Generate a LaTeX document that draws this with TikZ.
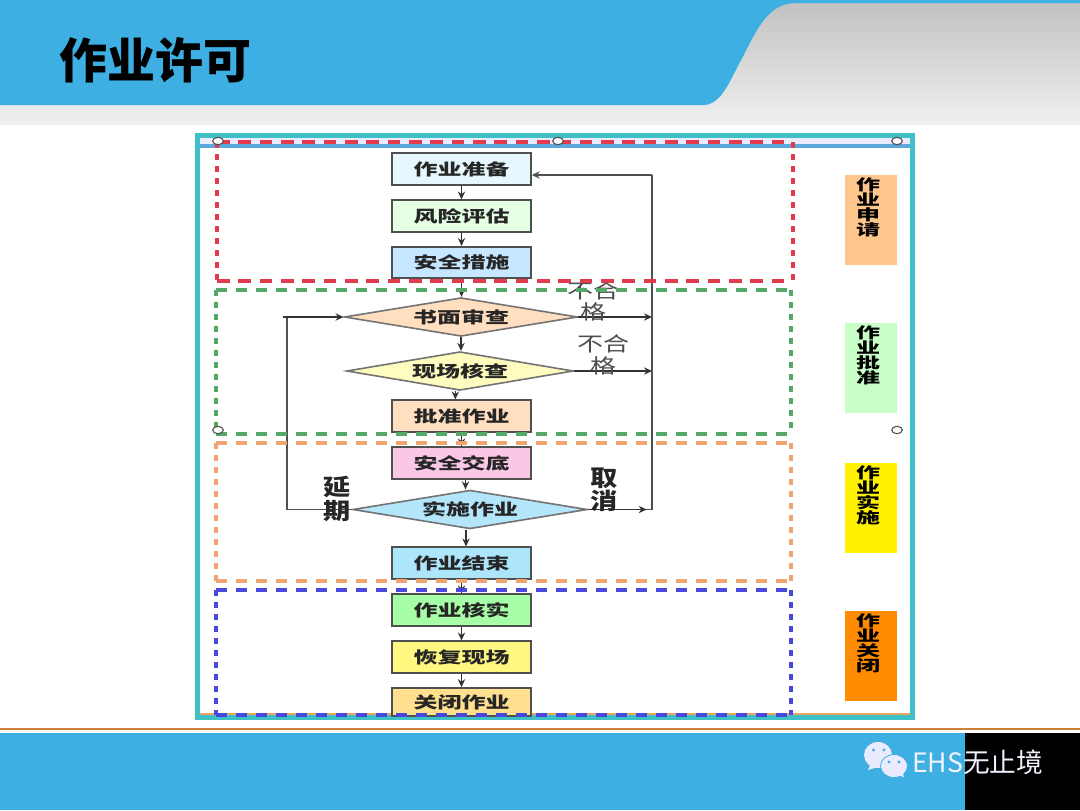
\documentclass[tikz,border=0pt]{standalone}
\usepackage{fontspec}
\setmainfont{Noto Sans CJK SC}
\usetikzlibrary{shapes.geometric, arrows.meta}
\definecolor{headblue}{HTML}{3DAFE3}
\definecolor{frameteal}{HTML}{3FC0C4}
\definecolor{framestrip}{HTML}{5AA8DC}
\definecolor{edgegray}{HTML}{505050}
\definecolor{closeyellow}{HTML}{FFE08F}
\definecolor{groupred}{HTML}{E23B4E}
\definecolor{groupgreen}{HTML}{55A865}
\definecolor{grouporange}{HTML}{F0A472}
\definecolor{groupblue}{HTML}{4A48DC}
\newcommand{\wide}[1]{\scalebox{1.5}[1]{#1}}
\tikzset{
    stepbox/.style={draw=edgegray, line width=1.3pt, minimum width=104pt, minimum height=23.5pt, inner sep=0pt,
        text=black!85, font=\fontsize{12}{12}\selectfont\bfseries},
    checkbox/.style={diamond, draw=edgegray!80, line width=1.2pt, aspect=6, inner sep=0pt,
        text=black!85, font=\fontsize{12}{12}\selectfont\bfseries},
    stagebox/.style={minimum width=39pt, minimum height=67pt, inner sep=0pt},
    stagetext/.style={anchor=north, align=center, inner sep=0pt, xscale=1.6, transform shape,
        font=\fontsize{11.25}{11.25}\selectfont\bfseries},
    flow/.style={draw=black!80, line width=1pt, -{Stealth[length=6pt, width=5.5pt]}},
    backline/.style={draw=edgegray, line width=1.4pt},
    handle/.style={ellipse, draw=black!70, fill=white, line width=0.8pt, minimum width=8pt, minimum height=5.5pt, inner sep=0pt},
    remark/.style={align=center, inner sep=0pt, text=black!70, xscale=1.3, transform shape,
        font=\fontsize{15}{16}\selectfont},
    strong/.style={align=center, inner sep=0pt, text=black!85, xscale=1.2, transform shape,
        font=\fontsize{17}{17.5}\selectfont\bfseries},
    longdash/.style={line width=2.4pt, dash pattern=on 8.5pt off 6.5pt},
    shortdash/.style={line width=3pt, dash pattern=on 4.6pt off 4.4pt},
}
\begin{document}
\begin{tikzpicture}[x=0.75pt, y=-0.75pt]
    \useasboundingbox (0,0) rectangle (1080,810);

    % header
    \fill[white] (0,0) rectangle (1080,810);
    \shade[top color=black!24, bottom color=black!6] (0,3) rectangle (1080,124);
    \fill[headblue] (0,0) -- (1080,0) -- (1080,3) -- (795,3)
        .. controls (765,4) and (755,35) .. (740,62)
        .. controls (728,85) and (720,105) .. (703,105) -- (0,105) -- cycle;
    \node[inner sep=0pt, font=\fontsize{36}{36}\selectfont\bfseries] (title) at (155.5,60) {作业许可};

    % footer
    \draw[draw=brown!80!orange, line width=0.8pt] (0,729) -- (1080,729);
    \fill[headblue] (0,733) rectangle (1080,810);
    \fill[black] (965,733) rectangle (1080,810);
    \fill[blue!8!white] (878,755) ellipse[x radius=14, y radius=13];
    \fill[blue!8!white] (870,765) -- (868,770) -- (878,767) -- cycle;
    \fill[headblue] (873.5,750) circle[radius=1.7] (884,750) circle[radius=1.7];
    \filldraw[fill=blue!8!white, draw=headblue, line width=0.6pt] (894,766) ellipse[x radius=13.5, y radius=11.5];
    \fill[blue!8!white] (897,775) -- (904,777) -- (902,771) -- cycle;
    \fill[headblue] (889,762) circle[radius=1.7] (899,762) circle[radius=1.7];
    \node[anchor=west, inner sep=0pt, text=blue!5!white, font=\fontsize{20}{20}\selectfont] (mark) at (912,762) {EHS无止境};

    % frame
    \fill[blue!8!white] (198,136) rectangle (912,146);
    \draw[draw=framestrip, line width=2.4pt] (198,146) -- (912,146);
    \draw[draw=orange!50!brown!70!white, line width=1.5pt] (198,714) -- (912,714);
    \draw[draw=frameteal, line width=3.2pt] (197.5,135.5) rectangle (912.5,717.5);

    % flow boxes
    \node[stepbox, fill=cyan!10] (bPrepare) at (461.5,169) {\wide{作业准备}};
    \node[stepbox, fill=green!10] (bRisk) at (461.5,216) {\wide{风险评估}};
    \node[stepbox, fill=blue!45!cyan!22] (bMeasure) at (461.5,262.5) {\wide{安全措施}};
    \node[checkbox, fill=orange!25, minimum width=175pt, minimum height=29pt] (bPaper) at (461,317) {\wide{书面审查}};
    \node[checkbox, fill=yellow!25, minimum width=170pt, minimum height=29pt] (bSite) at (460,371) {\wide{现场核查}};
    \node[stepbox, fill=orange!25] (bApprove) at (461.5,416) {\wide{批准作业}};
    \node[stepbox, fill=magenta!22] (bBrief) at (461.5,463) {\wide{安全交底}};
    \node[checkbox, fill=cyan!30, minimum width=176pt, minimum height=29pt] (bRun) at (470,509.5) {\wide{实施作业}};
    \node[stepbox, fill=cyan!32] (bFinish) at (461.5,563) {\wide{作业结束}};
    \node[stepbox, fill=green!35] (bVerify) at (461.5,610) {\wide{作业核实}};
    \node[stepbox, fill=yellow!50] (bRestore) at (461.5,657) {\wide{恢复现场}};
    \node[stepbox, fill=closeyellow, minimum height=21pt] (bClose) at (461.5,702) {\wide{关闭作业}};

    % connectors
    \draw[flow] (bPrepare) -- (bRisk);
    \draw[flow] (bRisk) -- (bMeasure);
    \draw[flow] (bMeasure) -- (bPaper.north -| bMeasure);
    \draw[flow] (bPaper.south) -- (bPaper.south |- bSite.north);
    \draw[flow] ([xshift=-3.5pt]bSite.south) -- ([xshift=-3.5pt]bSite.south |- bApprove.north);
    \draw[flow] (bApprove) -- (bBrief);
    \draw[flow] ([xshift=3pt]bBrief.south) -- ([xshift=3pt]bBrief.south |- bRun.north);
    \draw[flow] ([xshift=-3pt]bRun.south) -- ([xshift=-3pt]bRun.south |- bFinish.north);
    \draw[flow] (bFinish) -- (bVerify);
    \draw[flow] (bVerify) -- (bRestore);
    \draw[flow] (bRestore) -- (bClose);

    \coordinate (cTop) at (652,175);
    \coordinate (cBottom) at (652,509.5);
    \coordinate (cLeft) at (287,509.5);
    \coordinate (cEntry) at (283,317);
    \draw[backline] (bRun.east) -- (cBottom) -- (cTop);
    \draw[flow] (bRun.east) -- ([xshift=-4pt]cBottom);
    \draw[flow, draw=edgegray] (cTop) -- (cTop -| bPrepare.east);
    \draw[flow] (bPaper.east) -- (bPaper.east -| cTop);
    \draw[flow] (bSite.east) -- (bSite.east -| cTop);
    \draw[backline] (bRun.west) -- (cLeft) -- (cLeft |- cEntry);
    \draw[flow] (cEntry) -- (bPaper.west);

    % labels on the connectors
    \node[remark] (lFailOne) at (593,301.5) {不合\\格};
    \node[remark] (lFailTwo) at (603,355) {不合\\格};
    \node[strong] (lDelay) at (337,499) {延\\期};
    \node[strong] (lCancel) at (604,490) {取\\消};

    % stage groups
    \draw[draw=groupred, longdash, dash pattern=on 9.5pt off 6.5pt] (217,142) -- (793,142) (217,281) -- (793,281);
    \draw[draw=groupred, shortdash] (217,142) -- (217,281) (793,142) -- (793,281);
    \draw[draw=groupgreen, longdash] (216,290) -- (791,290) (216,434) -- (791,434);
    \draw[draw=groupgreen, shortdash] (216,290) -- (216,434) (791,290) -- (791,434);
    \draw[draw=grouporange, longdash] (216,443) -- (791,443) (216,581) -- (791,581);
    \draw[draw=grouporange, shortdash] (216,443) -- (216,581) (791,443) -- (791,581);
    \draw[draw=groupblue, longdash] (216,590) -- (791,590) (216,715) -- (791,715);
    \draw[draw=groupblue, shortdash] (216,590) -- (216,715) (791,590) -- (791,715);

    \node[handle] (hA) at (218,141) {};
    \node[handle] (hB) at (558,141) {};
    \node[handle] (hC) at (897,141) {};
    \node[handle] (hD) at (218,430) {};
    \node[handle] (hE) at (897,430) {};

    % stage tags
    \node[stagebox, fill=orange!45] (sApply) at (871,220) {};
    \node[stagebox, fill=green!22] (sApprove) at (871,368) {};
    \node[stagebox, fill=yellow] (sRun) at (871,508) {};
    \node[stagebox, fill=orange!90!yellow] (sClose) at (871,656) {};
    \node[stagetext] (tApply) at ([xshift=-2.2pt, yshift=-2pt]sApply.north) {作\\业\\申\\请};
    \node[stagetext] (tApprove) at ([xshift=-2.2pt, yshift=-2pt]sApprove.north) {作\\业\\批\\准};
    \node[stagetext] (tRun) at ([xshift=-2.2pt, yshift=-2pt]sRun.north) {作\\业\\实\\施};
    \node[stagetext] (tClose) at ([xshift=-2.2pt, yshift=-2pt]sClose.north) {作\\业\\关\\闭};
\end{tikzpicture}
\end{document}
